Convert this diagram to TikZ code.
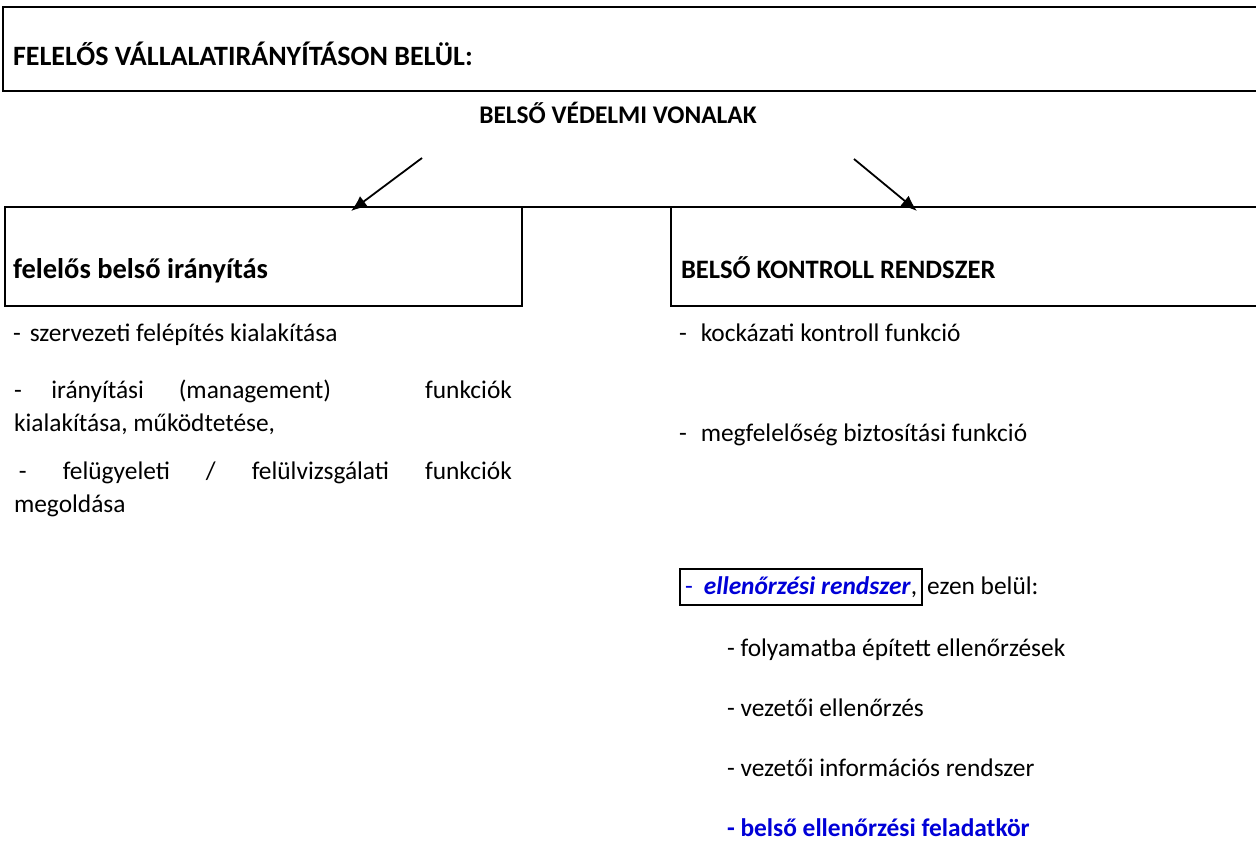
\documentclass[tikz,border=0pt]{standalone}
\usepackage{fontspec}
\setmainfont{Carlito}
\usetikzlibrary{arrows.meta}
\definecolor{linkblue}{RGB}{0,0,215}
\begin{document}
\begin{tikzpicture}[x=1pt,y=-1pt,
  frame/.style={line width=2pt},
  txt/.style={anchor=base west,inner sep=0pt,outer sep=0pt,font=\fontsize{25.4}{31}\selectfont},
  btxt/.style={txt,font=\fontsize{25.4}{31}\selectfont\bfseries},
  arr/.style={line width=1.8pt,-{Latex[length=16pt,width=13pt]}}]
\useasboundingbox (0,0) rectangle (1256,841);
% top frame (no right border)
\draw[frame] (1262,7) -- (3,7) -- (3,91) -- (1262,91);
\node[btxt,font=\fontsize{28}{34}\selectfont\bfseries] (title) at (13,65) {FELELŐS VÁLLALATIRÁNYÍTÁSON BELÜL:};
\node[btxt,anchor=base] (lines) at (618,123) {BELSŐ VÉDELMI VONALAK};
% second level frames
\draw[frame] (1262,207) -- (5,207) -- (5,306) -- (522,306) -- (522,207);
\draw[frame] (671,207) -- (671,306) -- (1262,306);
\coordinate (la) at (422,158);
\coordinate (lbox) at (351,211);
\coordinate (ra) at (854,159);
\coordinate (rbox) at (917,211);
\draw[arr] (la) -- (lbox);
\draw[arr] (ra) -- (rbox);
\node[btxt,font=\fontsize{28.5}{34}\selectfont\bfseries] (leftt) at (13,278) {felelős belső irányítás};
\node[btxt,font=\fontsize{26.6}{32}\selectfont\bfseries] (rightt) at (681,278) {BELSŐ KONTROLL RENDSZER};
% left list
\node[txt] (l1) at (13,341) {-\hspace{9pt}szervezeti felépítés kialakítása};
\node[txt] (l2) at (14,398) {\makebox[498pt][s]{-\hspace{\stretch{0.85}}irányítási\hspace{\stretch{1}}(management)\hspace{\stretch{2.7}}funkciók}};
\node[txt] (l3) at (14,431) {kialakítása, működtetése,};
\node[txt] (l4) at (19,479) {\makebox[493pt][s]{-\hfill felügyeleti\hfill /\hfill felülvizsgálati\hfill funkciók}};
\node[txt] (l5) at (14,512) {megoldása};
% right list
\node[txt] (r1) at (679,341) {-\hspace{14pt}kockázati kontroll funkció};
\node[txt] (r2) at (679,441) {-\hspace{14pt}megfelelőség biztosítási funkció};
\node[txt,draw,line width=2pt,inner xsep=5pt,inner ysep=0pt,text height=25pt,text depth=11pt] (r3) at (680,594) {\textcolor{linkblue}{-\hspace{11pt}\textbf{\textit{ellenőrzési rendszer}}},};
\node[txt,anchor=base west] (r3b) at ([xshift=5pt]r3.base east) {ezen belül:};
\node[txt] (s1) at (727,656) {- folyamatba épített ellenőrzések};
\node[txt] (s2) at (727,716) {- vezetői ellenőrzés};
\node[txt] (s3) at (727,776) {- vezetői információs rendszer};
\node[btxt,text=linkblue] (s4) at (727,836) {- belső ellenőrzési feladatkör};
\end{tikzpicture}
\end{document}
